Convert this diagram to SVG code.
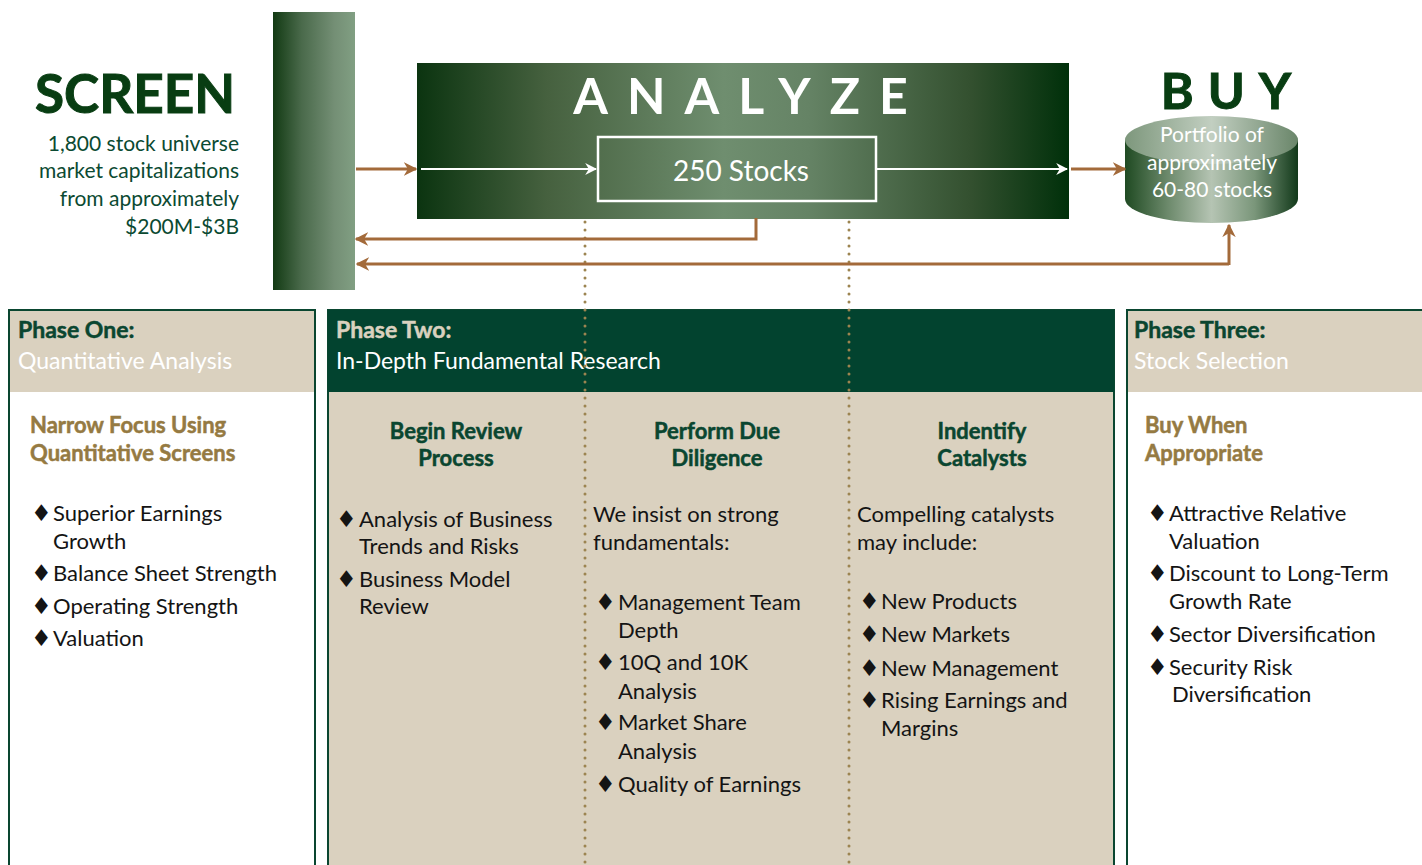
<svg xmlns="http://www.w3.org/2000/svg" width="1422" height="865" viewBox="0 0 1422 865">
<defs>
<linearGradient id="gBar" x1="0" y1="0" x2="1" y2="0">
<stop offset="0" stop-color="#123a13"/><stop offset="0.35" stop-color="#4a6a4b"/><stop offset="0.75" stop-color="#748f75"/><stop offset="1" stop-color="#819f83"/>
</linearGradient>
<linearGradient id="gAn" x1="0" y1="0" x2="1" y2="0">
<stop offset="0" stop-color="#0b3410"/><stop offset="0.2" stop-color="#46613f"/><stop offset="0.47" stop-color="#6f8e6f"/><stop offset="0.6" stop-color="#658365"/><stop offset="0.85" stop-color="#33502f"/><stop offset="1" stop-color="#00300a"/>
</linearGradient>
<linearGradient id="gCyl" x1="0" y1="0" x2="1" y2="0">
<stop offset="0" stop-color="#1f4a22"/><stop offset="0.25" stop-color="#6d8a6c"/><stop offset="0.5" stop-color="#b5c4b3"/><stop offset="0.75" stop-color="#7a967a"/><stop offset="1" stop-color="#12391a"/>
</linearGradient>
<linearGradient id="gTop" x1="0" y1="0" x2="1" y2="0">
<stop offset="0" stop-color="#7d977c"/><stop offset="0.5" stop-color="#c2cfc1"/><stop offset="1" stop-color="#6a866a"/>
</linearGradient>
<marker id="ab" viewBox="0 0 10 10" refX="9" refY="5" markerWidth="4.5" markerHeight="4.5" orient="auto" markerUnits="strokeWidth">
<path d="M0,0 L10,5 L0,10 L3,5 z" fill="#a36a3a"/>
</marker>
<marker id="aw" viewBox="0 0 10 10" refX="9" refY="5" markerWidth="6" markerHeight="6" orient="auto" markerUnits="strokeWidth">
<path d="M0,0 L10,5 L0,10 L3,5 z" fill="#ffffff"/>
</marker>
<style>
text{font-family:Lato,"Liberation Sans",sans-serif}
.body{font-size:22px;fill:#141414}
.d{font-family:"DejaVu Sans",sans-serif;font-size:23px}
.ph{font-size:23px;font-weight:bold;fill:#0a4630;stroke:#0a4630;stroke-width:0.5}
.sub{font-size:23px;fill:#ffffff}
.gold{font-size:22px;font-weight:bold;fill:#957a42;stroke:#957a42;stroke-width:0.5}
.col{font-size:22px;font-weight:bold;fill:#0a4630;stroke:#0a4630;stroke-width:0.5;text-anchor:middle}
.scr{font-size:21px;fill:#0b4a32;text-anchor:end}
.brown{stroke:#a36a3a;stroke-width:3;fill:none}
.dots{stroke:#9c8450;stroke-width:3;stroke-linecap:round;stroke-dasharray:0 8;fill:none}
</style>
</defs>
<rect width="1422" height="865" fill="#ffffff"/>

<g id="phase-one">
<rect x="9" y="310" width="306" height="560" fill="#ffffff" stroke="#0a4630" stroke-width="2"/>
<rect x="10" y="311" width="304" height="81" fill="#dad1bf"/>
<text x="18" y="338" class="ph">Phase One:</text>
<text x="18" y="369" class="sub">Quantitative Analysis</text>
<text x="30" y="433" class="gold">Narrow Focus Using</text>
<text x="30" y="461" class="gold">Quantitative Screens</text>
<text class="body"><tspan class="d" x="31" y="521">♦</tspan><tspan x="53" y="521">Superior Earnings</tspan><tspan x="53" y="549">Growth</tspan><tspan class="d" x="31" y="581">♦</tspan><tspan x="53" y="581">Balance Sheet Strength</tspan><tspan class="d" x="31" y="614">♦</tspan><tspan x="53" y="614">Operating Strength</tspan><tspan class="d" x="31" y="646">♦</tspan><tspan x="53" y="646">Valuation</tspan></text>
</g>

<g id="phase-two">
<rect x="328" y="310" width="786" height="560" fill="#dad1bf" stroke="#0a4630" stroke-width="2"/>
<rect x="328" y="310" width="786" height="82" fill="#02432f"/>
<text x="336" y="338" class="ph" style="fill:#dad1bf;stroke:#dad1bf">Phase Two:</text>
<text x="336" y="369" class="sub">In-Depth Fundamental Research</text>
<text x="456" y="439" class="col">Begin Review</text>
<text x="456" y="466" class="col">Process</text>
<text x="717" y="439" class="col">Perform Due</text>
<text x="717" y="466" class="col">Diligence</text>
<text x="982" y="439" class="col">Indentify</text>
<text x="982" y="466" class="col">Catalysts</text>
<text class="body"><tspan class="d" x="336" y="527">♦</tspan><tspan x="359" y="527">Analysis of Business</tspan><tspan x="359" y="554">Trends and Risks</tspan><tspan class="d" x="336" y="587">♦</tspan><tspan x="359" y="587">Business Model</tspan><tspan x="359" y="614">Review</tspan></text>
<text class="body"><tspan x="593" y="522">We insist on strong</tspan><tspan x="593" y="550">fundamentals:</tspan><tspan class="d" x="595" y="610">♦</tspan><tspan x="618" y="610">Management Team</tspan><tspan x="618" y="638">Depth</tspan><tspan class="d" x="595" y="670">♦</tspan><tspan x="618" y="670">10Q and 10K</tspan><tspan x="618" y="699">Analysis</tspan><tspan class="d" x="595" y="730">♦</tspan><tspan x="618" y="730">Market Share</tspan><tspan x="618" y="759">Analysis</tspan><tspan class="d" x="595" y="792">♦</tspan><tspan x="618" y="792">Quality of Earnings</tspan></text>
<text class="body"><tspan x="857" y="522">Compelling catalysts</tspan><tspan x="857" y="550">may include:</tspan><tspan class="d" x="859" y="609">♦</tspan><tspan x="881" y="609">New Products</tspan><tspan class="d" x="859" y="642">♦</tspan><tspan x="881" y="642">New Markets</tspan><tspan class="d" x="859" y="676">♦</tspan><tspan x="881" y="676">New Management</tspan><tspan class="d" x="859" y="708">♦</tspan><tspan x="881" y="708">Rising Earnings and</tspan><tspan x="881" y="736">Margins</tspan></text>
</g>

<g id="phase-three">
<rect x="1127" y="310" width="300" height="560" fill="#ffffff" stroke="#0a4630" stroke-width="2"/>
<rect x="1128" y="311" width="298" height="81" fill="#dad1bf"/>
<text x="1134" y="338" class="ph">Phase Three:</text>
<text x="1134" y="369" class="sub">Stock Selection</text>
<text x="1145" y="433" class="gold">Buy When</text>
<text x="1145" y="461" class="gold">Appropriate</text>
<text class="body"><tspan class="d" x="1147" y="521">♦</tspan><tspan x="1169" y="521">Attractive Relative</tspan><tspan x="1169" y="549">Valuation</tspan><tspan class="d" x="1147" y="581">♦</tspan><tspan x="1169" y="581">Discount to Long-Term</tspan><tspan x="1169" y="609">Growth Rate</tspan><tspan class="d" x="1147" y="642">♦</tspan><tspan x="1169" y="642">Sector Diversification</tspan><tspan class="d" x="1147" y="675">♦</tspan><tspan x="1169" y="675">Security Risk</tspan><tspan x="1172" y="702">Diversification</tspan></text>
</g>

<g id="screen">
<text x="235" y="113" style="font-size:53px;font-weight:bold;fill:#083d12;stroke:#083d12;stroke-width:1;text-anchor:end">SCREEN</text>
<text x="239" y="151" class="scr">1,800 stock universe</text>
<text x="239" y="178" class="scr">market capitalizations</text>
<text x="239" y="206" class="scr">from approximately</text>
<text x="239" y="234" class="scr">$200M-$3B</text>
</g>

<g id="screen-bar">
<rect x="273" y="12" width="82" height="278" fill="url(#gBar)"/>
</g>

<g id="analyze">
<rect x="417" y="63" width="652" height="156" fill="url(#gAn)"/>
<text x="750" y="114" style="font-size:50px;font-weight:bold;fill:#ffffff;text-anchor:middle;letter-spacing:19px">ANALYZE</text>
</g>

<g id="stocks-250">
<rect x="598" y="137" width="278" height="64" fill="none" stroke="#ffffff" stroke-width="2.5"/>
<text x="741" y="181" style="font-size:28px;fill:#ffffff;text-anchor:middle">250 Stocks</text>
</g>

<g id="buy">
<text x="1233" y="109" style="font-size:50px;font-weight:bold;fill:#083d12;stroke:#083d12;stroke-width:1;text-anchor:middle;letter-spacing:14px">BUY</text>
<path d="M1125,140 L1125,199 A86.5,24 0 0 0 1298,199 L1298,140 Z" fill="url(#gCyl)"/>
<ellipse cx="1211.5" cy="140" rx="86.5" ry="24" fill="url(#gTop)"/>
<text style="font-size:21px;fill:#ffffff;text-anchor:middle"><tspan x="1212" y="142">Portfolio of</tspan><tspan x="1212" y="170">approximately</tspan><tspan x="1212" y="197">60-80 stocks</tspan></text>
</g>

<g id="connectors">
<line x1="585" y1="222" x2="585" y2="865" class="dots"/>
<line x1="849" y1="222" x2="849" y2="865" class="dots"/>
<line x1="356" y1="169" x2="416" y2="169" class="brown" marker-end="url(#ab)"/>
<line x1="1071" y1="169" x2="1125" y2="169" class="brown" marker-end="url(#ab)"/>
<line x1="421" y1="169" x2="596" y2="169" stroke="#ffffff" stroke-width="2" marker-end="url(#aw)"/>
<line x1="877" y1="169" x2="1067" y2="169" stroke="#ffffff" stroke-width="2" marker-end="url(#aw)"/>
<polyline points="756,218 756,239 356,239" class="brown" marker-end="url(#ab)"/>
<line x1="1229" y1="264" x2="357" y2="264" class="brown" marker-end="url(#ab)"/>
<line x1="1229" y1="265" x2="1229" y2="225" class="brown" marker-end="url(#ab)"/>
</g>
</svg>
